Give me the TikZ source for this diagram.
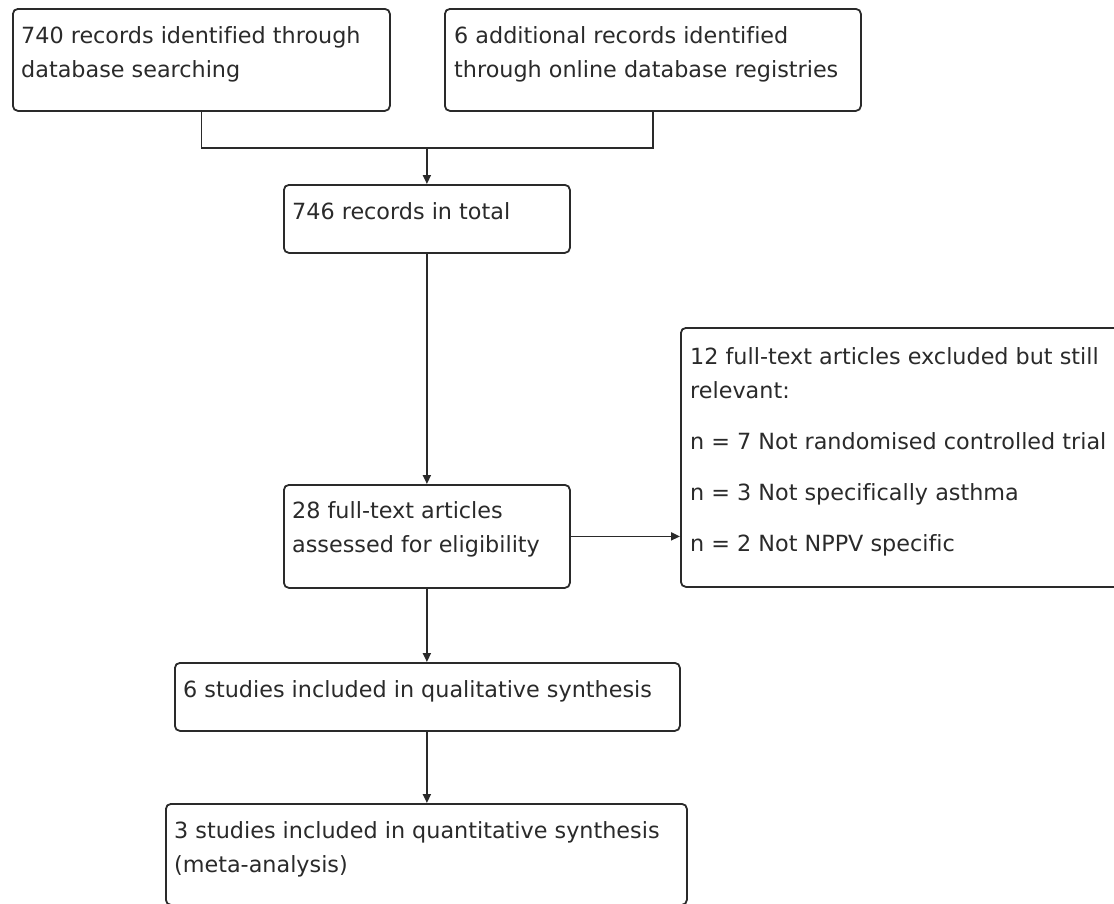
\documentclass[tikz,border=0pt]{standalone}
\usepackage{fontspec}
\setmainfont{DejaVu Sans}[Ligatures=NoCommon]
\usetikzlibrary{arrows.meta,calc}
\definecolor{linec}{HTML}{2a2a2a}
\definecolor{txtc}{HTML}{2a2a2a}
\begin{document}
\begin{tikzpicture}[x=1pt,y=-1pt,
  box/.style={draw=linec, line width=1.8pt, rounded corners=5pt, anchor=north west, inner sep=0pt},
  txt/.style={anchor=base west, inner sep=0pt, text=txtc, font=\fontsize{22.3}{34}\selectfont},
  conn/.style={draw=linec, line width=1.8pt},
  arr/.style={conn, -{Triangle[length=9pt,width=8pt]}}]
\useasboundingbox (0,0) rectangle (1114,903);
\clip (0,0) rectangle (1114,903);
\fill[white] (0,0) rectangle (1114,903);
% boxes
\node[box, minimum width=377pt, minimum height=102pt] (A) at (12,8) {};
\node[box, minimum width=416pt, minimum height=102pt] (B) at (444,8) {};
\node[box, minimum width=286pt, minimum height=68pt] (C) at (283,184) {};
\node[box, minimum width=286pt, minimum height=103pt] (D) at (283,484) {};
\node[box, minimum width=450pt, minimum height=259pt] (E) at (680,327) {};
\node[box, minimum width=505pt, minimum height=68pt] (F) at (174,662) {};
\node[box, minimum width=521pt, minimum height=101pt] (G) at (165,803) {};
% texts
\node[txt] (A1) at (21,43) {740 records identified through};
\node[txt] (A2) at (21,77) {database searching};
\node[txt] (B1) at (454,43) {6 additional records identified};
\node[txt] (B2) at (454,77) {through online database registries};
\node[txt] (C1) at (292,219) {746 records in total};
\node[txt] (D1) at (292,518) {28 full-text articles};
\node[txt] (D2) at (292,552) {assessed for eligibility};
\node[txt] (E1) at (690,364) {12 full-text articles excluded but still};
\node[txt] (E2) at (690,398) {relevant:};
\node[txt] (E3) at (690,449) {n = 7 Not randomised controlled trial};
\node[txt] (E4) at (690,500) {n = 3 Not specifically asthma};
\node[txt] (E5) at (690,551) {n = 2 Not NPPV specific};
\node[txt] (F1) at (183,697) {6 studies included in qualitative synthesis};
\node[txt] (G1) at (174,838) {3 studies included in quantitative synthesis};
\node[txt] (G2) at (174,872) {(meta-analysis)};
% connectors
\coordinate (J) at (C.north |- 0,148);
\draw[conn] (A.south) |- (J) -| (B.south);
\draw[arr] (J) -- (C.north);
\draw[arr] (C.south) -- (C.south |- D.north);
\draw[arr] (D.east) -- (D.east -| E.west);
\draw[arr] (C.south |- D.south) -- (C.south |- F.north);
\draw[arr] (C.south |- F.south) -- (C.south |- G.north);
\end{tikzpicture}
\end{document}
